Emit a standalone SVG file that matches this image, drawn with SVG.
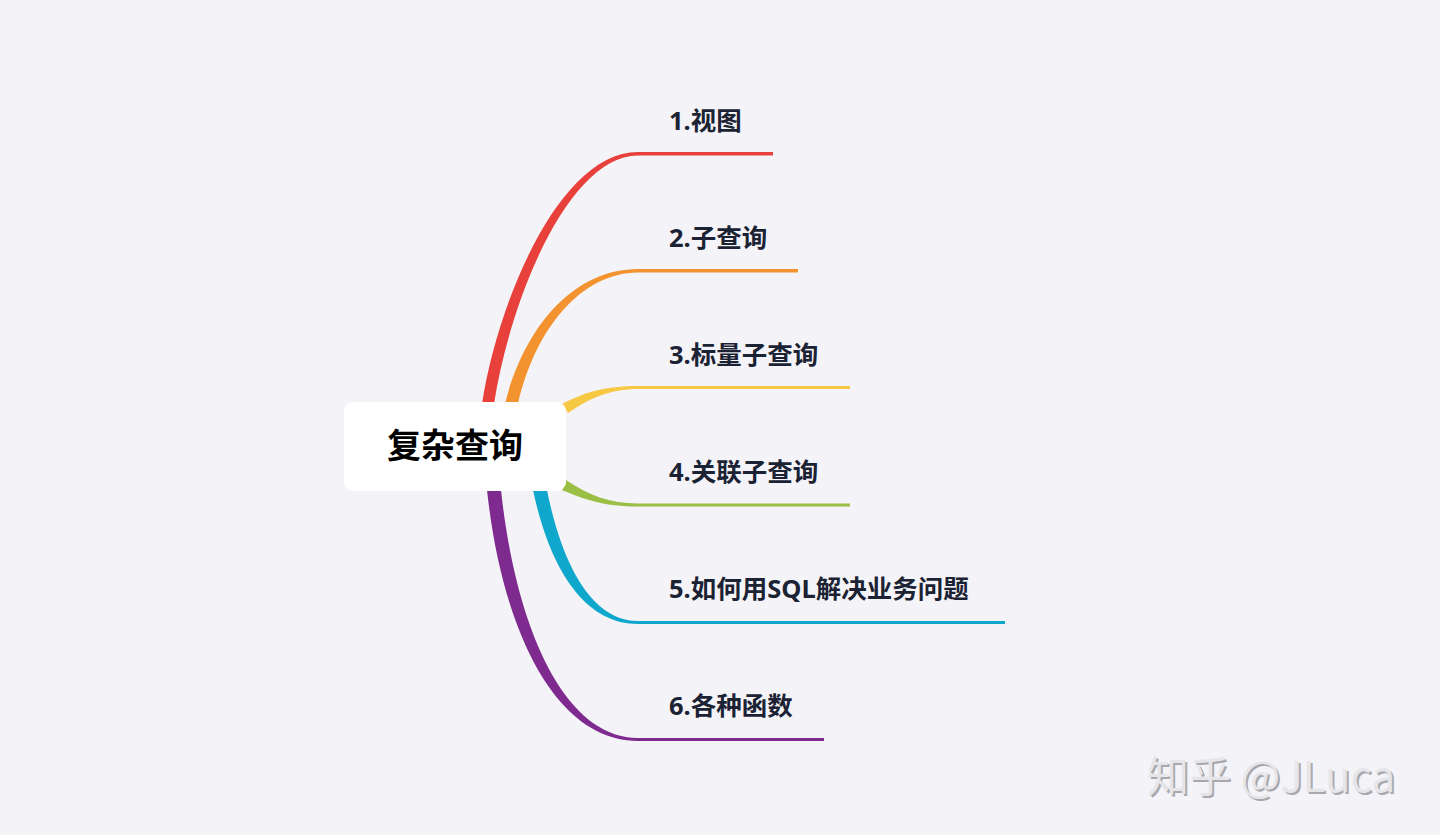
<svg xmlns="http://www.w3.org/2000/svg" width="1440" height="835" viewBox="0 0 1440 835">
<defs>
<style>
.lbl{font-family:"Noto Sans","Noto Sans CJK SC",sans-serif;font-size:25.5px;font-weight:bold;fill:#1b2233;}
.root{font-family:"Noto Sans CJK SC","Noto Sans",sans-serif;font-size:34px;font-weight:bold;fill:#000;}
.wm{font-family:"Noto Sans CJK SC","Noto Sans",sans-serif;font-size:42px;fill:#e6e6ea;}
.wms{font-family:"Noto Sans CJK SC","Noto Sans",sans-serif;font-size:42px;fill:#a9a9ad;}
</style>
</defs>
<rect width="1440" height="835" fill="#f4f4f8"/>
<g id="connectors">
<path d="M482,404 C498,300 560,152 638,152 L773,152 L773,155.5 L638,155.5 C568,156 510,300 494,404 Z" fill="#e8403a"/>
<path d="M505,404 C523,330 572,269 638,269 L798,269 L798,272.5 L638,272.5 C580,273 535,330 518,404 Z" fill="#f39330"/>
<path d="M562,404 C585,392 605,386 638,386 L850,386 L850,389 L638,389 C610,389 590,398 568,413 Z" fill="#f6c844"/>
<path d="M566,480 C588,495 610,503.5 638,503.5 L850,503.5 L850,506.5 L638,506.5 C605,506.5 585,500 562,490 Z" fill="#9bbe45"/>
<path d="M533,490 C550,570 585,624 638,624 L1005,624 L1005,621 L638,621 C592,621 562,565 547,490 Z" fill="#0fa8cc"/>
<path d="M487,490 C502,630 555,741 638,741 L824,741 L824,738 L638,738 C565,738 516,630 501,490 Z" fill="#7e2a8f"/>
</g>
<g id="root">
<rect x="344" y="402" width="222" height="89" rx="9" fill="#ffffff"/>
<text class="root" x="455" y="458" text-anchor="middle">复杂查询</text>
</g>
<g id="n1"><text class="lbl" x="669" y="130">1.视图</text></g>
<g id="n2"><text class="lbl" x="669" y="247">2.子查询</text></g>
<g id="n3"><text class="lbl" x="669" y="364">3.标量子查询</text></g>
<g id="n4"><text class="lbl" x="669" y="481">4.关联子查询</text></g>
<g id="n5"><text class="lbl" x="669" y="598">5.如何用SQL解决业务问题</text></g>
<g id="n6"><text class="lbl" x="669" y="715">6.各种函数</text></g>
<g id="watermark">
<text class="wms" x="1149" y="794">知乎 @JLuca</text>
<text class="wm" x="1147" y="792">知乎 @JLuca</text>
</g>
</svg>
